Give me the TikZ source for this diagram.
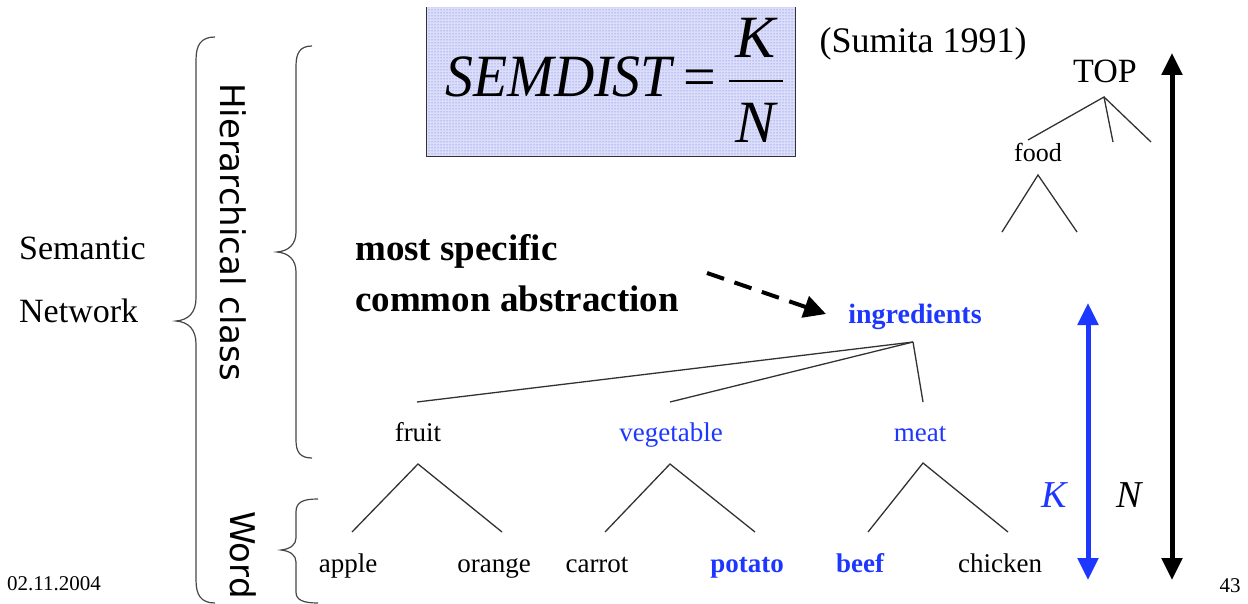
\documentclass[tikz,border=0pt]{standalone}
\usepackage{fontspec}
\setmainfont{Liberation Serif}
\newfontfamily\sansf{DejaVu Sans}
\usetikzlibrary{arrows.meta,patterns}
\definecolor{kblue}{RGB}{30,55,255}
\definecolor{boxfill}{RGB}{220,222,248}
\definecolor{treeline}{RGB}{50,50,50}
\definecolor{bracecol}{RGB}{70,70,70}
\newcommand\sz[1]{\fontsize{#1}{#1}\selectfont}

\begin{document}
\begin{tikzpicture}[x=1pt,y=-1pt,
  txt/.style={inner sep=0pt, anchor=base},
  lbl/.style={txt, font=\sz{27}},
  blbl/.style={txt, font=\sz{27}\bfseries, text=kblue},
  edge/.style={draw=treeline, line width=1.3pt},
  curly/.style={draw=bracecol, line width=1.2pt},
  side/.style={inner sep=0pt, rotate=-90, font=\sansf\sz{34}}]
\useasboundingbox (0,0) rectangle (1248,604);

% formula box
\node[inner sep=0pt, minimum width=368pt, minimum height=149pt] (box) at (611,82) {};
\fill[boxfill] (box.north west) rectangle (box.south east);
\fill[pattern=dots, pattern color=kblue!75] (box.north west) rectangle (box.south east);
\draw[line width=1.2pt, black!80] (box.north west) -- (box.south west) -- (box.south east) -- (box.north east);
\node[txt, anchor=base east, xscale=0.93, font=\sz{60}\itshape] (sem) at (672,97) {SEMDIST};
\node[txt, font=\sz{58}] (eq) at (700,97) {=};
\node[txt, font=\sz{60}\itshape] (fk) at (756,58) {K};
\node[txt, font=\sz{60}\itshape] (fn) at (756,143) {N};
\coordinate (barl) at (729,81);
\coordinate (barr) at (783,81);
\draw[line width=2pt] (barl) -- (barr);
\node[txt, font=\sz{36}] (cite) at (923,53) {(Sumita 1991)};

% left labels and braces
\node[txt, anchor=base west, font=\sz{34}] (semn) at (19,259) {Semantic};
\node[txt, anchor=base west, font=\sz{34}] (netw) at (19,322) {Network};
\draw[curly] (215,37) .. controls (201,37) and (196,45) .. (196,60) -- (196,298)
  .. controls (196,312) and (189,320) .. (176,321)
  .. controls (189,322) and (196,330) .. (196,344) -- (196,580)
  .. controls (196,595) and (201,603) .. (215,603);
\node[side] (hier) at (233,232) {Hierarchical class};
\draw[curly] (312,46) .. controls (300,46) and (296,53) .. (296,66) -- (296,232)
  .. controls (296,244) and (289,251) .. (277,252)
  .. controls (289,253) and (296,260) .. (296,272) -- (296,440)
  .. controls (296,452) and (300,458) .. (312,458);
\node[side] (word) at (243,555) {Word};
\draw[curly] (318,499) .. controls (303,499) and (296,502) .. (296,512) -- (296,538)
  .. controls (296,545) and (290,549) .. (281,550)
  .. controls (290,551) and (296,555) .. (296,562) -- (296,592)
  .. controls (296,600) and (303,603) .. (318,603);

% annotation
\node[txt, anchor=base west, font=\sz{37}\bfseries] (msca1) at (355,261) {most specific};
\node[txt, anchor=base west, font=\sz{37}\bfseries] (msca2) at (355,311) {common abstraction};
\coordinate (dashs) at (707,273);
\coordinate (dashe) at (826,314);
\draw[line width=4pt, dash pattern=on 18pt off 11pt, -{Triangle[length=22pt,width=22pt]}] (dashs) -- (dashe);

% upper tree
\node[txt, font=\sz{34}] (top) at (1105,83) {TOP};
\node[txt, font=\sz{26}] (food) at (1038,162) {food};
\coordinate (topA) at (1104,97);
\coordinate (foodT) at (1028,140);
\coordinate (topB) at (1113,142);
\coordinate (topC) at (1151,142);
\draw[edge] (foodT) -- (topA) -- (topB);
\draw[edge] (topA) -- (topC);
\coordinate (foodA) at (1038,175);
\coordinate (foodL) at (1002,232);
\coordinate (foodR) at (1077,232);
\draw[edge] (foodL) -- (foodA) -- (foodR);

% ingredients tree
\node[txt, font=\sz{28}\bfseries, text=kblue] (ingr) at (915,323) {ingredients};
\node[lbl] (fruit) at (418,441) {fruit};
\node[lbl, text=kblue] (veg) at (671,441) {vegetable};
\node[lbl, text=kblue] (meat) at (920,441) {meat};
\coordinate (ingA) at (913,342);
\coordinate (fruitT) at (417,402);
\coordinate (vegT) at (670,402);
\coordinate (meatT) at (923,402);
\draw[edge] (ingA) -- (fruitT);
\draw[edge] (ingA) -- (vegT);
\draw[edge] (ingA) -- (meatT);

% word level
\node[lbl] (apple) at (348,572) {apple};
\node[lbl] (orange) at (494,572) {orange};
\node[lbl] (carrot) at (597,572) {carrot};
\node[blbl] (potato) at (747,572) {potato};
\node[blbl] (beef) at (860,572) {beef};
\node[lbl] (chicken) at (1000,572) {chicken};
\coordinate (fruitA) at (418,464);
\coordinate (appleT) at (352,532);
\coordinate (orangeT) at (502,532);
\coordinate (vegA) at (670,464);
\coordinate (carrotT) at (605,532);
\coordinate (potatoT) at (755,532);
\coordinate (meatA) at (923,463);
\coordinate (beefT) at (868,532);
\coordinate (chickenT) at (1008,532);
\draw[edge] (appleT) -- (fruitA) -- (orangeT);
\draw[edge] (carrotT) -- (vegA) -- (potatoT);
\draw[edge] (beefT) -- (meatA) -- (chickenT);

% distance arrows
\coordinate (Ktop) at (1088,303);
\coordinate (Kbot) at (1088,580);
\coordinate (Ntop) at (1172,53);
\coordinate (Nbot) at (1172,580);
\draw[kblue, line width=5pt, {Triangle[length=22pt,width=20pt]}-{Triangle[length=22pt,width=20pt]}] (Ktop) -- (Kbot);
\draw[black, line width=5pt, {Triangle[length=22pt,width=20pt]}-{Triangle[length=22pt,width=20pt]}] (Ntop) -- (Nbot);
\node[txt, font=\sz{38}\itshape, text=kblue] (klab) at (1054,507) {K};
\node[txt, font=\sz{38}\itshape] (nlab) at (1129,507) {N};

% footer
\node[txt, anchor=base west, font=\sz{21}] (date) at (7,590) {02.11.2004};
\node[txt, font=\sz{21}] (page) at (1230,592) {43};
\end{tikzpicture}
\end{document}
